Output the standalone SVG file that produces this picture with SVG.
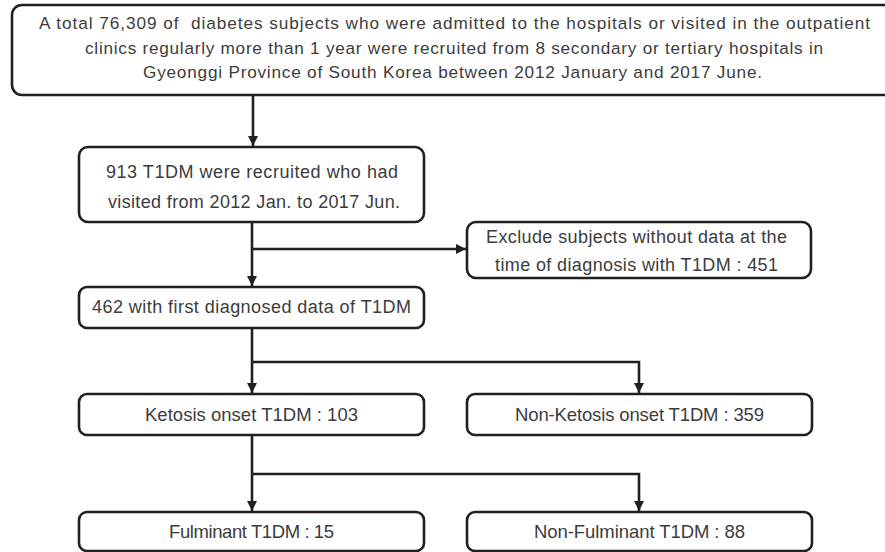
<svg xmlns="http://www.w3.org/2000/svg" width="885" height="552" viewBox="0 0 885 552">
<defs>
<style>
.box{fill:#fff;stroke:#231f20;stroke-width:2.6}
.t{font-family:"Liberation Sans",Arial,sans-serif;fill:#3c3c3c;text-anchor:middle}
.s16{font-size:17.2px}
.s18{font-size:18px}
.s19{font-size:18.5px}
.ln{fill:none;stroke:#231f20;stroke-width:2.6}
</style>
<marker id="ah" viewBox="0 0 10 10" refX="10" refY="5" markerWidth="4" markerHeight="4" orient="auto" markerUnits="strokeWidth">
<path d="M0,0 L10,5 L0,10 z" fill="#231f20"/>
</marker>
</defs>
<rect width="885" height="552" fill="#fff"/>
<g id="connectors">
<path class="ln" d="M253,95 V146" marker-end="url(#ah)"/>
<path class="ln" d="M252,222 V286" marker-end="url(#ah)"/>
<path class="ln" d="M252,249 H466" marker-end="url(#ah)"/>
<path class="ln" d="M252,328 V393" marker-end="url(#ah)"/>
<path class="ln" d="M252,362 H639 V393" marker-end="url(#ah)"/>
<path class="ln" d="M252,435 V511" marker-end="url(#ah)"/>
<path class="ln" d="M252,474 H639 V511" marker-end="url(#ah)"/>
</g>
<g id="n-total">
<rect class="box" x="12" y="5" width="890" height="90" rx="10"/>
<text class="t s16" x="454.5" y="29" textLength="831" xml:space="preserve">A total 76,309 of  diabetes subjects who were admitted to the hospitals or visited in the outpatient</text>
<text class="t s16" x="454" y="53.5" textLength="738">clinics regularly more than 1 year were recruited from 8 secondary or tertiary hospitals in</text>
<text class="t s16" x="452.5" y="78" textLength="619">Gyeonggi Province of South Korea between 2012 January and 2017 June.</text>
</g>
<g id="n-913">
<rect class="box" x="79" y="147" width="345" height="75" rx="9"/>
<text class="t s18" x="252" y="178" textLength="292">913 T1DM were recruited who had</text>
<text class="t s18" x="254" y="208" textLength="292">visited from 2012 Jan. to 2017 Jun.</text>
</g>
<g id="n-exclude">
<rect class="box" x="467" y="222" width="344" height="56" rx="9"/>
<text class="t s18" x="636.5" y="243" textLength="301">Exclude subjects without data at the</text>
<text class="t s18" x="636.5" y="271" textLength="283">time of diagnosis with T1DM : 451</text>
</g>
<g id="n-462">
<rect class="box" x="79" y="287" width="345" height="41" rx="8"/>
<text class="t s18" x="251.5" y="313" textLength="319">462 with first diagnosed data of T1DM</text>
</g>
<g id="n-ketosis">
<rect class="box" x="79" y="394" width="345" height="41" rx="8"/>
<text class="t s19" x="251.5" y="421" textLength="213">Ketosis onset T1DM : 103</text>
</g>
<g id="n-nonketosis">
<rect class="box" x="467" y="394" width="345" height="41" rx="8"/>
<text class="t s19" x="639.5" y="421" textLength="249">Non-Ketosis onset T1DM : 359</text>
</g>
<g id="n-fulminant">
<rect class="box" x="79" y="512" width="345" height="39" rx="8"/>
<text class="t s19" x="251.5" y="538" textLength="165">Fulminant T1DM : 15</text>
</g>
<g id="n-nonfulminant">
<rect class="box" x="467" y="512" width="345" height="39" rx="8"/>
<text class="t s19" x="639.5" y="538" textLength="211">Non-Fulminant T1DM : 88</text>
</g>
</svg>
